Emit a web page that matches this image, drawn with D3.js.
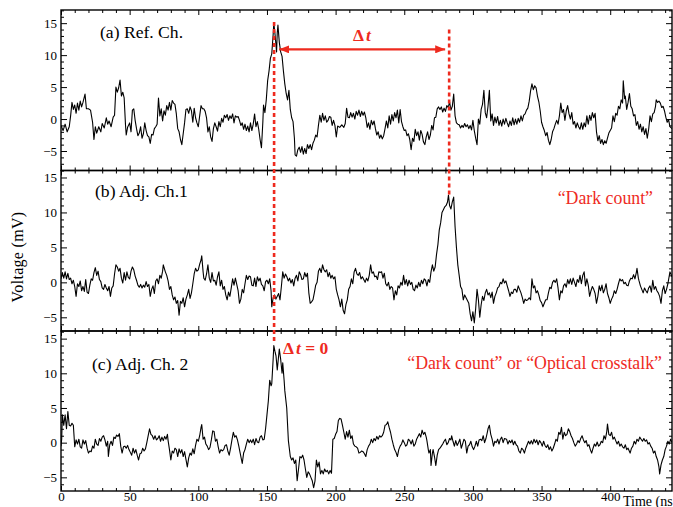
<!DOCTYPE html>
<meta charset="utf-8">
<head>
  <style>
    body { margin: 0; background: #fff; }
    svg text { font-family: "Liberation Serif", "Times New Roman", serif; }
    .axis text { font-size: 13px; fill: #000; }
    .axis line { stroke: #000; stroke-width: 1; }
    .axis path { display: none; }
  </style>
  <script src="https://d3js.org/d3.v7.min.js"></script>
</head>
<body>
<div id="chart"></div>
<script>
// *** waveform samples: [time (ns), voltage (mV)]
var refCh = [[0,-1],[1.5,-1.8],[3,-0.8],[4.5,-2],[6,-1.2],[7,0.5],[8,2.6],[9,1.5],[10,2.2],[11,0.9],[12,2.5],[13,1.4],[14,2.8],[15,1.9],[16,2.6],[17.5,3.9],[18.5,1.6],[20,1.6],[21.5,1.4],[23,-0.5],[24,-3.2],[25,-1.2],[26,-2.2],[27.5,-1.2],[29,-2],[30,-0.7],[31.5,-1.4],[33,0.2],[34,-0.8],[35,-0.3],[36.5,-1.2],[38,0.3],[39,0.6],[40,5],[41,4.2],[42,4.9],[43,6.1],[44,3.6],[45,4.2],[46,3.3],[47,-1],[47.5,-2.5],[48.5,-1.3],[50,-0.6],[51,-2],[52,1.4],[53,1.6],[54,-0.2],[55,-1.5],[56,-2.6],[57,-2.2],[58,-1.2],[59,-3],[60,-2.3],[61,-0.6],[62,-1.8],[63,-2.6],[64,-2.8],[65,-3.8],[66,-2.4],[67,-2.5],[68,-1.5],[69,-1.2],[70,-0.8],[71,3.3],[72,0.5],[73,1.6],[74,-0.3],[75,1.3],[76,0.6],[77,2.1],[78,1.4],[79,2.6],[80,1.4],[81,2.9],[82,2.5],[83,2.3],[84,0.8],[85,-1.5],[86,-2],[87,-3.2],[88,-4],[89,-2.3],[90,-0.6],[91,1.5],[92,1.6],[93,0.9],[94,1.9],[95,1.3],[96,-0.5],[97,1.7],[98,0.2],[99,-0.6],[100,-1.2],[101,0.5],[102,2.1],[103,1.6],[104,1.6],[105,1.2],[106,0.2],[107,-2],[108,-1.2],[109,-2.8],[110,-3.5],[111,-1.5],[112,-0.6],[113,-1.2],[114,-1.9],[115,-0.4],[116,-1.2],[117,0.1],[118,-0.5],[119,0.6],[120,0.2],[121,0.7],[122,-0.2],[123,0.5],[124,0.1],[125,0.8],[126,-0.6],[127,0.5],[128,0.3],[129,0.4],[130,-0.2],[131,-1],[132,-0.6],[133,-1.6],[134,-0.8],[135,-1.8],[136,-1.1],[137,-2],[138,-0.6],[139,-1.8],[140,-0.8],[141,0.8],[142,-1.2],[143,-0.4],[144,-1.6],[145,-3.2],[146,-4.5],[147,-0.5],[147.5,2.2],[148.5,1],[149.5,3],[150.5,6],[151.5,7.5],[152.5,9.5],[153.5,10.2],[154.5,13.2],[155,15],[156,13],[157,10.5],[157.5,13.5],[158,14.7],[159,12],[160,10.5],[161,9.8],[162,7.5],[163,5.5],[164,4],[165,3],[166,4.5],[167,1.5],[168,0.2],[169,-0.4],[170,-3],[170.5,-5.6],[171.5,-5.8],[172.5,-4.8],[173.5,-4.4],[174.5,-5.2],[175.5,-4.3],[176.5,-5.5],[177.5,-4.6],[178.5,-5.4],[179.5,-4],[180.5,-4.6],[181.5,-4],[182.5,-4.8],[183.5,-3.8],[184.5,-3.3],[185.5,-2.5],[186.5,-2.8],[187.5,-1],[188.5,0.6],[189.5,-0.5],[190.5,0.9],[191.5,-0.2],[192.5,0.5],[193.5,-0.5],[194.5,-0.2],[195.5,0.4],[196.5,0.3],[197.5,-1],[198.5,-0.2],[199.5,-1],[200.5,-2.8],[201.5,-1.1],[203,-1.3],[204.5,-0.9],[206,-1.3],[207,-0.7],[208,1.7],[209,0.3],[210,0.2],[211,1],[212,0.3],[213,0.9],[214,0],[215,1.2],[216,0.6],[217,1.4],[218,0.4],[219,1.2],[220,0.6],[221,1.1],[222,0.2],[223,-1.3],[224,-0.6],[225,-1.6],[226,-0.2],[227,-0.9],[228,-0.3],[229,-1.5],[230,-2.5],[231,-2],[232,-3],[233,-2.5],[234,-3.1],[235,-2.6],[236,-1.5],[237,-0.3],[238,-1.4],[239,0.5],[240,-0.8],[241,0.7],[242,-0.3],[243,1],[244,0.2],[245,1.4],[246,-0.6],[247,1.5],[248,-0.4],[249,-1.2],[250,-1.8],[251,-1.7],[252,-2.6],[253,-2.3],[254,-3.2],[255,-4.8],[256,-3],[257,-3.5],[258,-1.6],[259,-2.6],[260,-2],[261,-3.3],[262,-1.8],[263,-2.4],[264,-3.6],[265,-4],[266,-2.8],[267,-2],[268,-3.2],[269,-2.5],[270,-1],[271,-1.7],[272,0.2],[273,0.3],[274,1.6],[275,1.9],[276,1.5],[277,1.9],[278,1.1],[279,1.7],[280,1.2],[281,2.1],[282,1.8],[283,2.7],[284,1.4],[285,2],[286,3.9],[287,0.5],[288,-0.6],[289,-0.8],[290,-0.9],[291,-1.4],[292,-1],[293,-1.3],[294,-0.7],[295,-1.2],[296,-0.9],[297,-1.5],[298,-1],[299,-1.7],[300,-0.2],[301,-1.8],[302,-3],[303,-4],[304,0],[305,-0.8],[306,1.5],[307,2.3],[308,4.5],[309,1],[310,0.2],[311,2],[312,4.5],[313,-0.3],[314,0.8],[315,-1],[316,0.3],[317,-0.6],[318,0.4],[319,-1],[320,-0.2],[321,-1.1],[322,0],[323,-0.8],[324,0.1],[325,-0.6],[326,-1.2],[327,-0.3],[328,-1],[329,0.2],[330,-0.9],[331,0],[332,-0.8],[333,0.1],[334,-0.5],[335,0.5],[336,-0.3],[337,0.6],[338,0.8],[339,1.4],[340,1.7],[341,2.8],[342,4.4],[343,5.5],[344,4.6],[345,5.2],[346,4.9],[347,3.6],[348,2.7],[349,1.3],[350,-0.5],[351,-1.2],[352,-1.8],[353,-2.6],[354,-2.1],[355,-3.3],[356,-4],[357,-3.2],[358,-2],[359,-1.5],[360,-0.8],[361,-0.2],[362,-0.8],[363,0.5],[364,2.5],[365,1],[366,1.5],[367,-0.2],[368,1.3],[369,2.1],[370,0.8],[371,0],[372,1],[373,-0.8],[374,-0.4],[375,-1.4],[376,-0.6],[377,-1.2],[378,-1.6],[379,-0.6],[380,-1.6],[381,-0.6],[382,-1.2],[383,0.5],[384,-0.8],[385,0.6],[386,-0.2],[387,1],[388,0.2],[389,0.9],[390,-2],[391,-3.4],[392,-2.6],[393,-3.8],[394,-3.2],[395,-4],[396,-3.4],[397,-3.8],[398,-3],[399,-2.2],[400,-1.8],[401,-1.4],[402,0.5],[403,-0.4],[404,0.9],[405,0.6],[406,2],[407,1.6],[408,3],[409,2.5],[409.5,6],[410.5,3.2],[411,3.6],[412,1.5],[413,2.6],[414,4],[415,2],[416,1.6],[417,0.5],[418,0.7],[419,-1],[420,-0.4],[421,-1.6],[422,-0.8],[423,-2],[424,-1.2],[425,-2.4],[426,-1.5],[427,-3],[428,-1.6],[429,0.5],[430,-0.4],[431,0.8],[432,1],[433,2],[433.5,3],[434.5,2.6],[435.5,2.8],[436.5,2.5],[437.5,1.8],[438.5,2],[439.5,1.3],[440.5,0.3],[441.5,-0.5],[442.5,-0.1],[443.5,-1.2],[445,-1.5]];

var adjCh1 = [[0,0.5],[1,1.4],[2,0.6],[3,1.5],[4,0.5],[5,1.3],[6,0.4],[7,0.6],[8,-0.2],[9,0.3],[10,-0.6],[11,-2],[12,-0.2],[13,-0.6],[14,0.2],[15,-1.2],[16,-0.6],[17,-1.3],[18,0.4],[19,-1.4],[20,-1.6],[21,-0.4],[22,0.5],[23,0.3],[24,1.4],[25,2.1],[26,1],[27,1.6],[28,0.4],[29,0.1],[30,-0.8],[31,-1],[32,-0.3],[33,-0.8],[34,-1.2],[35,-0.6],[36,-2],[37,-0.8],[38,-0.5],[39,1.2],[40,2.5],[41,2.2],[42,1.6],[43,2],[44,0.6],[45,-0.1],[46,1.4],[47,0.3],[48,1.5],[49,0.7],[50,0.5],[51,1.6],[52,2.2],[53,1.8],[54,0.9],[55,0.3],[56,-0.4],[57,-0.7],[58,-0.3],[59,-0.8],[60,-0.4],[61,-0.7],[62,0.1],[63,-0.6],[64,-0.3],[65,-2],[66,-1],[67,-0.5],[68,-1.6],[69,0.2],[70,0.5],[71,-0.2],[72,1],[73,0.6],[74,1.6],[74.5,2.5],[76,1.5],[77,1],[78,0.2],[79,-1],[80,-0.6],[81,-1.8],[82,-2.5],[83,-2.1],[84,-3],[85,-2.6],[86,-4.7],[87,-2.7],[88,-3],[89,-2.2],[90,-3.5],[91,-2.4],[92,-1.8],[93,-1],[94,-2.3],[95,-1.5],[96,-0.2],[97,1.2],[98,2],[99,1.6],[100,1.8],[101,2.6],[102,3.2],[102.5,3.8],[103.5,1.5],[104,0.6],[105,0.3],[106,1.2],[107,2.5],[108,0.6],[109,0],[110,1.4],[111,0.2],[112,0.3],[113,-0.4],[114,0.8],[115,1.5],[116,-0.5],[117,0.3],[118,-1],[119,-0.6],[120,-1.8],[121,-2.5],[122,-1.4],[123,-2],[124,-0.8],[125,0.5],[126,-0.4],[127,0.6],[128,-0.3],[129,-1.2],[130,-3],[131,-2.4],[132,-1],[133,-1.5],[134,-0.2],[135,1],[136,0.4],[137,0.9],[138,0.8],[139,-0.4],[140,-0.5],[141,0.6],[142,-0.6],[143,0.8],[144,0.2],[145,0.6],[146,-0.3],[147,-0.5],[148,-1.2],[149,0.1],[150,0.3],[151,-0.2],[152,0.5],[153,-1.2],[153.5,-3.5],[154.5,-2.2],[155.5,-1.8],[156.5,-2.4],[157.5,-2],[158.5,-1.6],[159.5,-2.5],[160.5,-0.6],[161.5,1.5],[162.5,0.6],[163.5,1.2],[164.5,0.8],[165.5,0.2],[166.5,0.6],[167.5,-0.1],[168.5,0.4],[169.5,-0.5],[170.5,0.6],[171.5,1],[172.5,0.2],[173.5,1.5],[174.5,1.1],[175.5,0.4],[176.5,0.5],[177.5,1.4],[178.5,0.8],[179.5,1.3],[180.5,-1.5],[181.5,-3],[182.5,-2.8],[183.5,-2.5],[184.5,-1.5],[185.5,-0.4],[186.5,0],[187.5,1.6],[188.5,2],[189.5,1.4],[190.5,2.5],[191.5,1.8],[192.5,1.5],[193.5,1.8],[194.5,0.8],[195.5,1.4],[196.5,0.6],[197.5,1],[198.5,0.5],[199.5,0.8],[200.5,-1],[201.5,-1.8],[202.5,-2.5],[203.5,-3.5],[204.5,-2.4],[205.5,-4],[206.5,-4.5],[207.5,-3.2],[208.5,-2.5],[209.5,-1],[210.5,-0.6],[211.5,0.5],[212.5,-0.2],[213.5,1.5],[214.5,2],[215.5,1.2],[216.5,1],[217.5,1.4],[218.5,0.5],[219.5,0.8],[220.5,0.4],[221.5,0],[222.5,0.6],[223.5,0.2],[224.5,1],[225.5,2.5],[226.5,1.3],[227.5,1.5],[228.5,0.8],[229.5,0.9],[230.5,0.4],[231.5,1.5],[232.5,1.4],[233.5,1.5],[234.5,0.6],[235.5,1.3],[236.5,-0.2],[237.5,-0.5],[238.5,0],[239.5,-1],[240.5,-0.6],[241.5,-0.8],[242.5,-2.5],[243.5,-1.2],[244.5,-1.8],[245.5,-0.5],[246.5,-0.8],[247.5,0],[248.5,-0.4],[249.5,1],[250.5,-0.3],[251.5,0.4],[252.5,-0.5],[253.5,0.3],[254.5,-0.3],[255.5,0],[256.5,-1],[257.5,-1.2],[258.5,-0.4],[259.5,-0.8],[260.5,0],[261.5,-0.6],[262.5,0.3],[263.5,-0.2],[264.5,0.5],[265.5,0.3],[266.5,-0.5],[267.5,0.4],[268.5,0],[269.5,1.5],[270.5,2.5],[271.5,1.6],[272.5,2.2],[273.5,4],[274.5,5.4],[275.5,7.5],[276.5,8.5],[277.5,10],[278.5,10.4],[279.5,10.8],[280.5,11],[281.5,11.5],[282.2,12.5],[283,11],[284,10.5],[285,11.5],[286,12.2],[287,8],[288,5],[289,2.5],[290,1],[291,-0.6],[292,-1],[293,-2.5],[294,-1.8],[295,-2.2],[296,-2.6],[297,-3],[298,-4.5],[299,-5.5],[300,-4.2],[301,-5.8],[302,-3.8],[303,-1],[304,-2.5],[305,-5],[306,-3.2],[307,-2],[308,-2.6],[309,-1.5],[310,-1],[311,-1.8],[312,-1.5],[313,-2.2],[314,-1.4],[315,-3],[316,-2],[317,-1.5],[318,-0.8],[319,-0.6],[320,0],[321,-0.2],[322,0.5],[323,-0.1],[324,0.2],[325,-0.5],[326,-1.2],[327,-2],[328,-1.4],[329,-1.6],[330,-1],[331,-1],[332,-1.4],[333,-0.5],[334,-1],[335,-1.5],[336,-2.2],[337,-3],[338,-2.4],[339,-2.6],[340,-2.5],[341,-2.2],[342,-2.5],[343,0.5],[344,-0.8],[345,-0.5],[346,-1.5],[347,-1.2],[348,-1.8],[349,-2.6],[350,-2.9],[351,-3.5],[352,-3],[353,-2.5],[354,-2.5],[355,-1.5],[356,-0.7],[357,-0.9],[358,0],[359,0.3],[360,0],[361,0.5],[362,-0.8],[363,-2.5],[364,-1.2],[365,-1.5],[366,-0.5],[367,-0.2],[368,-0.7],[369,0.4],[370,-0.2],[371,0.5],[372,-0.3],[373,0.6],[374,0],[375,-0.6],[376,0.4],[377,0],[378,1],[379,-0.2],[380,1],[381,1.5],[382,-0.5],[383,0.5],[384,-0.4],[385,-2],[386,-1.2],[387,-0.6],[388,-1],[389,-1.6],[390,-3],[391,-2],[392,-0.5],[393,-1.2],[394,-0.4],[395,-1.5],[396,-1],[397,-0.2],[398,-1.6],[399,-2.2],[400,-3],[401,-2.4],[402,-2],[403,-1.2],[404,-1.6],[405,-1],[406,-0.2],[407,0.5],[408,0.2],[409,0.4],[410,-0.2],[411,0],[412,-0.4],[413,-0.5],[414,0.2],[415,0.6],[416,0.5],[417,1.1],[418,0.5],[419,1.4],[419.5,2],[420.5,0.6],[421,0.2],[422,-0.5],[423,-1],[424,-1.5],[425,-0.8],[426,-1.2],[427,-1.5],[428,-0.8],[429,-0.5],[430,-1.4],[431,0.3],[432,-1],[433,-0.6],[434,-1.2],[435,-1.5],[436,-2],[437,-3],[438,-1.2],[439,-0.5],[440,-1.6],[441,-1],[442,-0.2],[443.5,1.5],[445,0.8]];

var adjCh2 = [[0,-0.5],[0.5,0.5],[1,4],[2,2.5],[3,4],[4,2],[5,4.5],[6,2.5],[7,2.4],[8,2.8],[9,2.5],[10,-0.6],[11,0.4],[12,-0.2],[13,0.5],[14,-0.6],[15,-0.8],[16,0.4],[17,-0.2],[18,0.3],[19,-0.8],[20,-1.5],[21,-1.2],[22,-1.3],[23,-0.5],[24,-0.8],[25,0.5],[26,-0.2],[27,-0.4],[28,0.6],[29,0.2],[30,0.8],[31,1],[32,0.4],[33,-0.5],[34,0.2],[34.5,-2],[35.5,-0.3],[36.5,0.2],[37.5,-0.4],[38.5,0.8],[39.5,0.6],[40.5,1.1],[41.5,0.9],[42.5,1.3],[43.5,-0.5],[44.5,-1.5],[45.5,-0.6],[46.5,-0.5],[47.5,-0.8],[48.5,-0.4],[49.5,-1],[50.5,-1.4],[51.5,-1.8],[52.5,-0.8],[53.5,-1.5],[54.5,-1],[55.5,-1.8],[56.5,-2.5],[57.5,-1.6],[58.5,-1.5],[59.5,-0.8],[60.5,-1.2],[61.5,-0.9],[62.5,0],[63.5,1],[64.5,2],[65.5,1.2],[66.5,1],[67.5,0.5],[68.5,1],[69.5,0.4],[70.5,0.6],[71.5,1],[72.5,0.2],[73.5,0.8],[74.5,0.3],[75.5,0.9],[76.5,0.5],[77.5,1.2],[78,0.3],[79,-1],[80,-2.5],[81,-1.2],[82,-1.5],[83,-0.8],[84,-1],[85,-2],[86,-0.9],[87,-1.5],[88,-1],[89,-2],[90,-1.3],[91,-2.4],[92,-3.5],[93,-2.2],[94,-1.5],[95,-1.8],[96,-0.9],[97,-1.6],[98,-0.4],[99,0.5],[100,0.2],[101,1],[102,2.2],[102.5,2.6],[103.5,0.5],[104.5,0.8],[105.5,-0.2],[106.5,-0.5],[107.5,-1],[108.5,-0.7],[109.5,0.4],[110.5,1.7],[111.5,1.6],[112.5,0.2],[113.5,0.5],[114.5,-0.6],[115.5,-1.5],[116.5,-1],[117.5,-1.2],[118.5,-1],[119.5,-0.4],[120.5,-0.3],[121.5,-1.2],[122.5,-1.8],[123.5,-0.8],[124.5,0.4],[125.5,1.5],[126.5,0.8],[127.5,1],[128.5,0.4],[129.5,-0.5],[130.5,-1.5],[131.5,-2.5],[132,-3],[133,-1.5],[134,-1],[135,-0.2],[136,0.5],[137,0],[138,0.4],[139,0],[140,0.5],[141,-0.3],[142,0.6],[143,0.1],[144,0],[145,0.8],[146,1],[147,0.4],[148,0.5],[149,2],[150,4],[151,6],[152,9],[153,8.2],[153.5,8.5],[154.5,12],[155,14],[156,13],[156.6,12.5],[157.5,10.5],[158,11.5],[159,13.5],[160,12],[161,10],[161.5,11.5],[162.5,9],[163,7.5],[164.4,5],[165.6,0.3],[167,-2],[168,-2.5],[169,-2.2],[170,-3],[171,-2.5],[172,-5.5],[173,-3.8],[174,-2],[175,-2.2],[176,-1.8],[177,-2.5],[178,-3.8],[179,-5],[180,-4.2],[181,-4.5],[182,-5],[183,-5.5],[184,-6.5],[185,-5.5],[186,-2.5],[187,-3.5],[188,-2.8],[189,-4.5],[190,-4],[191,-4.5],[192,-3.8],[193,-4.2],[194,-4],[195,-4.5],[196,-4],[197,-4.4],[198,0.5],[199,0.6],[200,1.2],[201,1.6],[202,3.2],[203,3.5],[204,3.4],[205,2.5],[206,1.5],[207,0.5],[208,1.6],[209,0.8],[210,1.8],[211,0.6],[212,1],[213,-0.2],[214,-0.5],[215,-0.6],[216,-0.8],[217,-1.5],[218,-1.4],[219,-1.2],[220,-1.3],[221,-1.6],[222,-2],[223,-1],[224,-0.5],[225,-0.2],[226,0.5],[227,0],[228,0.6],[229,0.3],[230,0.9],[231,0.5],[232,1],[233,0.8],[234,1],[235,1.5],[236,2.5],[237,2.6],[238,3],[239,2.2],[240,1.5],[241,0.5],[242,-0.3],[243,-1],[244,-1.4],[245,-2],[246,-1],[247,-0.5],[248,-0.2],[249,0.4],[250,0],[251,-0.5],[252,-0.3],[253,0.5],[254,0.3],[255,-0.2],[256,0.4],[257,-0.5],[258,-0.2],[259,0.5],[260,0.9],[261,1.3],[262,0.8],[263,1.8],[264,1.2],[265,1.5],[266,0.8],[266.5,0.3],[267.5,-1],[268,-1.5],[269,-1],[269.5,-3.3],[270.5,-1.5],[271,-1],[272,-2],[273,-3.3],[274,-1.8],[275,-1],[276,-0.8],[277,-0.5],[278,-0.2],[279,0.2],[280,0.5],[281,-0.3],[282,0],[283,0.6],[284,0.4],[284.5,1],[285.5,0.2],[286.5,-0.5],[287.5,0.3],[288.5,-0.4],[289.5,0],[290.5,0.5],[291.5,-0.8],[292.5,-0.2],[293.5,0.5],[294.5,0.2],[295.5,-1.5],[296.5,-0.5],[297.5,-0.3],[298.5,0.2],[299.5,-0.6],[300.5,-1],[301.5,-0.5],[302.5,0.2],[303.5,-0.5],[304.5,0.4],[305.5,0.5],[306.5,0.3],[307.5,1],[308.5,0],[309.5,0.6],[310.5,1.5],[311,2],[312,2.5],[313,1.2],[314,0.5],[315,-0.5],[316,0.2],[317,0],[318,0.5],[319,-0.2],[320,0.5],[321,0.8],[322,0],[323,0.6],[324.5,0.5],[325.5,-0.2],[326.5,0.3],[327.5,0],[328.5,0.4],[329.5,-0.3],[330.5,0.2],[331.5,-0.3],[332.5,-0.5],[333.5,-1.2],[334.5,-1.5],[335.5,-0.8],[336.5,-1],[337.5,-1.5],[338.5,-0.8],[339.5,-0.3],[340.5,0.2],[341.5,-0.2],[342.5,0.3],[343.5,-0.2],[344.5,0.5],[345.5,0],[346.5,0.4],[347.5,-0.3],[348.5,0.3],[349.5,0],[350.5,-0.5],[351.5,0.2],[352.5,-0.4],[353.5,-0.7],[354.5,-0.3],[355.5,-1],[356.5,-0.6],[357.5,-1.2],[358.5,-0.8],[359.5,-0.2],[360.5,0.5],[361.5,0.2],[362.5,1.5],[363.5,1.2],[364.5,2.2],[365.5,0.5],[366.5,1.5],[367.5,1],[368.5,1.2],[369.5,2],[370.5,1.6],[371.5,1],[372.5,0.6],[373.5,0],[374.5,-0.5],[375.5,-0.2],[376.5,0.3],[377.5,0],[378.5,0.6],[379.5,1],[380.5,0.4],[381.5,0],[382.5,0.3],[383.5,-0.5],[384.5,-0.3],[385.5,-1],[386.5,-1.5],[387.5,-0.8],[388.5,-0.2],[389.5,-0.5],[390.5,0.1],[391.5,-0.5],[392.5,-0.3],[393.5,0.2],[394.5,0],[395.5,1],[396.5,0.5],[397.5,1.6],[398,2.7],[399,1.2],[400,1],[401,1.5],[402,0.5],[403,0.8],[404,0.3],[405,-0.2],[406,0.2],[407,-0.5],[408,-0.2],[409,-0.6],[410,-0.8],[411,-0.3],[412,-1],[413,-0.8],[414.5,-1.5],[415.5,-0.8],[416.5,-0.5],[417.5,0.2],[418.5,-0.2],[419.5,0.5],[420.5,0.2],[421.5,0.8],[422.5,0.5],[423.5,0.2],[424.5,0.6],[425.5,0.2],[426.5,0.4],[427.5,-0.2],[428.5,0],[429.5,-0.5],[430.5,-0.8],[431.5,-1.5],[432.5,-1.2],[433.5,-2],[434.5,-2.5],[435.5,-3.5],[436,-4.5],[437,-3.2],[438,-2.5],[439,-2],[440,-1],[441,-0.5],[442,0.2],[443,-0.2],[444,0.5],[445,0]];

// *** axis ticks and labels
var xMajorTicks = [0, 50, 100, 150, 200, 250, 300, 350, 400];
var yMajorTicks = [-5, 0, 5, 10, 15];
var panelLabels = ["(a) Ref. Ch.", "(b) Adj. Ch.1", "(c) Adj. Ch. 2"];
var pulseTimes = [155.2, 282.7];   // dashed markers: ref pulse, dark-count pulse

var red = "#ee2a1e";
var W = 673, H = 507;

var x = d3.scaleLinear().domain([0, 445]).range([61, 672]);

// *** one y scale per panel, label position inside it
var panels = [
  { data: refCh,  y: d3.scaleLinear().domain([-8.05, 17.06]).range([170.5, 10]), lx: 100, ly: 38 },
  { data: adjCh1, y: d3.scaleLinear().domain([-6.96, 16.0]).range([331, 170.5]), lx: 95, ly: 197 },
  { data: adjCh2, y: d3.scaleLinear().domain([-6.97, 16.1]).range([491, 331]), lx: 92, ly: 370 }
];

var svg = d3.select("#chart").append("svg")
  .attr("width", W)
  .attr("height", H);

var xMinor = d3.range(0, 446, 10).filter(function(d) { return d % 50 != 0; });

panels.forEach(function(p, i) {
  var y = p.y;
  var y0 = y.range()[0], y1 = y.range()[1];
  var yMinor = d3.range(Math.ceil(y.domain()[0]), Math.floor(y.domain()[1]) + 1)
    .filter(function(d) { return d % 5 != 0; });

  svg.append("clipPath").attr("id", "clip" + i)
    .append("rect")
    .attr("x", x.range()[0]).attr("y", y1)
    .attr("width", x.range()[1] - x.range()[0]).attr("height", y0 - y1);

  // left axis with labels
  svg.append("g").attr("class", "axis")
    .attr("transform", "translate(" + x.range()[0] + ",0)")
    .call(d3.axisLeft(y).tickValues(yMajorTicks).tickSize(-6).tickSizeOuter(0).tickPadding(4)
      .tickFormat(function(d) { return d < 0 ? "\u2212" + (-d) : d; }));
  svg.append("g").attr("class", "axis")
    .attr("transform", "translate(" + x.range()[0] + ",0)")
    .call(d3.axisLeft(y).tickValues(yMinor).tickSize(-3).tickSizeOuter(0).tickFormat(""));

  // right axis, ticks only
  svg.append("g").attr("class", "axis")
    .attr("transform", "translate(" + x.range()[1] + ",0)")
    .call(d3.axisRight(y).tickValues(yMajorTicks).tickSize(-6).tickSizeOuter(0).tickFormat(""));
  svg.append("g").attr("class", "axis")
    .attr("transform", "translate(" + x.range()[1] + ",0)")
    .call(d3.axisRight(y).tickValues(yMinor).tickSize(-3).tickSizeOuter(0).tickFormat(""));

  // top / bottom time ticks
  svg.append("g").attr("class", "axis")
    .attr("transform", "translate(0," + y1 + ")")
    .call(d3.axisTop(x).tickValues(xMajorTicks).tickSize(-5).tickSizeOuter(0).tickFormat(""));
  svg.append("g").attr("class", "axis")
    .attr("transform", "translate(0," + y1 + ")")
    .call(d3.axisTop(x).tickValues(xMinor).tickSize(-3).tickSizeOuter(0).tickFormat(""));
  var bottom = d3.axisBottom(x).tickValues(xMajorTicks).tickSize(-5).tickSizeOuter(0).tickPadding(1);
  if (i < 2) bottom.tickFormat("");
  svg.append("g").attr("class", "axis")
    .attr("transform", "translate(0," + y0 + ")")
    .call(bottom);
  svg.append("g").attr("class", "axis")
    .attr("transform", "translate(0," + y0 + ")")
    .call(d3.axisBottom(x).tickValues(xMinor).tickSize(-3).tickSizeOuter(0).tickFormat(""));

  // trace
  svg.append("path")
    .datum(p.data)
    .attr("clip-path", "url(#clip" + i + ")")
    .attr("fill", "none")
    .attr("stroke", "#000")
    .attr("stroke-width", 1.1)
    .attr("stroke-linejoin", "round")
    .attr("d", d3.line().x(function(d) { return x(d[0]); }).y(function(d) { return y(d[1]); }));

  // frame
  svg.append("rect")
    .attr("x", x.range()[0]).attr("y", y1)
    .attr("width", x.range()[1] - x.range()[0]).attr("height", y0 - y1)
    .attr("fill", "none").attr("stroke", "#000").attr("stroke-width", 1.4);

  svg.append("text")
    .attr("x", p.lx)
    .attr("y", p.ly)
    .style("font-size", "17.6px")
    .text(panelLabels[i]);
});

// axis titles
svg.append("text")
  .attr("transform", "translate(23,257) rotate(-90)")
  .attr("text-anchor", "middle")
  .style("font-size", "16px")
  .style("letter-spacing", "0.3px")
  .text("Voltage (mV)");

svg.append("text")
  .attr("x", 623).attr("y", 506)
  .style("font-size", "14px")
  .text("Time (ns)");

// *** red annotations
var yA = panels[0].y, yB = panels[1].y, yC = panels[2].y;

svg.append("line")
  .attr("x1", x(pulseTimes[0])).attr("x2", x(pulseTimes[0]))
  .attr("y1", yA(15.2)).attr("y2", yC(14.3))
  .attr("stroke", red).attr("stroke-width", 2.6).attr("stroke-dasharray", "4,3");
svg.append("line")
  .attr("x1", x(pulseTimes[1])).attr("x2", x(pulseTimes[1]))
  .attr("y1", yA(14)).attr("y2", yB(12.3))
  .attr("stroke", red).attr("stroke-width", 2.6).attr("stroke-dasharray", "4,3");

var defs = svg.append("defs");
defs.append("marker").attr("id", "arrow")
  .attr("viewBox", "0 0 10 8").attr("refX", 10).attr("refY", 4)
  .attr("markerWidth", 10).attr("markerHeight", 8)
  .attr("markerUnits", "userSpaceOnUse")
  .attr("orient", "auto-start-reverse")
  .append("path").attr("d", "M0,0 L10,4 L0,8 Z").attr("fill", red);

var arrowY = yA(10.9);
svg.append("line")
  .attr("x1", x(pulseTimes[0]) + 5).attr("x2", x(pulseTimes[1]) - 4)
  .attr("y1", arrowY).attr("y2", arrowY)
  .attr("stroke", red).attr("stroke-width", 2.2)
  .attr("marker-start", "url(#arrow)").attr("marker-end", "url(#arrow)");

var dt = svg.append("text")
  .attr("x", 353).attr("y", 41)
  .attr("fill", red)
  .style("font-size", "17.5px").style("font-weight", "bold");
dt.append("tspan").text("\u0394");
dt.append("tspan").attr("dx", 2).style("font-style", "italic").text("t");

var dt0 = svg.append("text")
  .attr("x", 283).attr("y", 354)
  .attr("fill", red)
  .style("font-size", "17.5px").style("font-weight", "bold");
dt0.append("tspan").text("\u0394");
dt0.append("tspan").attr("dx", 2).style("font-style", "italic").text("t");
dt0.append("tspan").text(" = 0");

svg.append("text")
  .attr("x", 653).attr("y", 204)
  .attr("text-anchor", "end")
  .attr("fill", red)
  .style("font-size", "17.8px")
  .text("\u201cDark count\u201d");

svg.append("text")
  .attr("x", 662).attr("y", 369)
  .attr("text-anchor", "end")
  .attr("fill", red)
  .style("font-size", "17.8px")
  .text("\u201cDark count\u201d or \u201cOptical crosstalk\u201d");
</script>
</body>
